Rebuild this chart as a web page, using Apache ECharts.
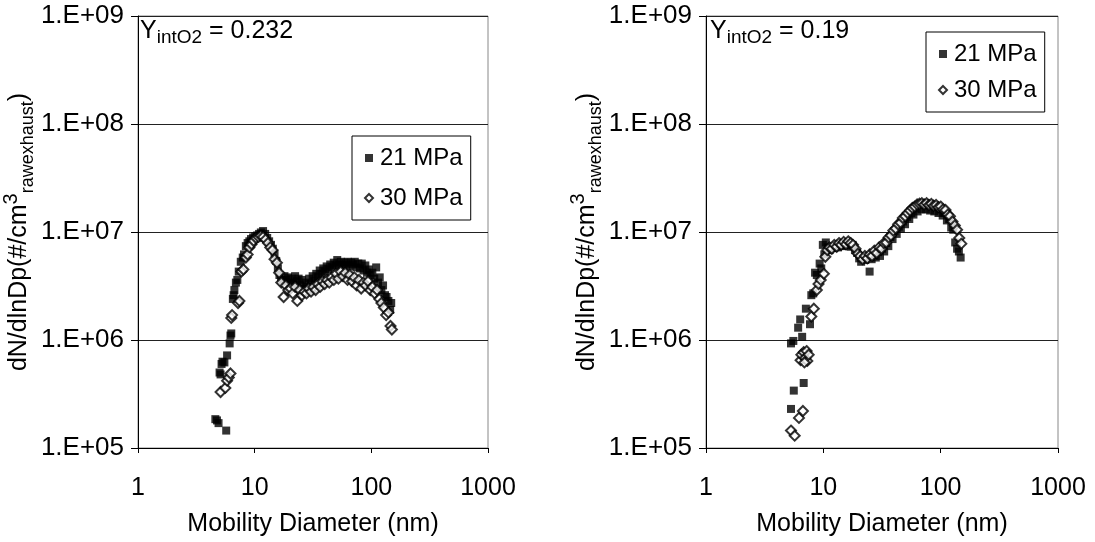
<!DOCTYPE html>
<html>
<head>
<meta charset="utf-8">
<script src="https://cdn.jsdelivr.net/npm/echarts@6/dist/echarts.min.js"></script>
<style>
html,body{margin:0;padding:0;background:#fff;}
#chart{width:1095px;height:542px;}
</style>
</head>
<body>
<div id="chart"></div>
<script>
// ---- data: [mobility diameter (nm), dN/dlnDp] ----
const seriesNames = ['21 MPa', '30 MPa'];
const xTicks = [1, 10, 100, 1000];
const yTicks = [1e5, 1e6, 1e7, 1e8, 1e9];
const annotations = ['0.232', '0.19'];

const left21 = [
[4.6,1.85e5],[4.75,1.8e5],[4.9,1.7e5],[5.7,1.45e5],
[5.0,5.0e5],[5.1,4.8e5],[5.2,6.0e5],[5.3,6.3e5],[5.5,6.2e5],[5.8,7.2e5],[6.1,9.3e5],[6.2,1.1e6],[6.3,1.15e6],
[6.5,2.4e6],[6.6,2.6e6],[6.7,2.9e6],[6.9,3.4e6],[7.1,3.6e6],[7.3,4.3e6],[7.6,5.3e6],[7.9,5.8e6],[8.1,6.2e6],
[8.4,7.4e6],[8.7,7.9e6],[9.0,8.2e6],[9.3,8.6e6],[9.7,8.9e6],[10.1,9.1e6],[10.5,9.3e6],[10.9,9.6e6],[11.3,9.9e6],
[11.8,1.02e7],[12.3,9.6e6],[12.8,8.8e6],[13.3,8.2e6],[13.8,7.6e6],[14.3,7.0e6],[14.8,6.3e6],[15.3,5.4e6],[15.8,4.6e6],
[16.3,4.0e6],[16.8,3.6e6],[17.4,3.5e6],[18.0,3.9e6],[18.6,3.6e6],[19.3,3.8e6],[20.0,3.4e6],[20.7,3.7e6],[21.4,3.3e6],
[22.2,3.9e6],[23.0,3.5e6],[23.8,3.7e6],[24.6,3.2e6],[25.5,3.6e6],[26.4,3.0e6],[27.3,3.4e6],[28.3,3.1e6],[29.3,3.7e6],
[30.3,3.3e6],[31.4,3.9e6],[32.5,3.5e6],[33.7,4.1e6],[34.9,3.8e6],[36.1,4.4e6],[37.4,4.1e6],[38.7,4.6e6],[40.0,4.3e6],
[41.4,4.8e6],[42.9,4.5e6],[44.4,5.0e6],[46.0,4.7e6],[47.6,5.2e6],[49.3,4.9e6],[51.0,5.5e6],[52.8,5.0e6],[54.7,5.3e6],
[56.6,4.9e6],[58.6,5.2e6],[60.6,5.0e6],[62.8,5.3e6],[65.0,4.8e6],[67.3,5.2e6],[69.7,5.0e6],[72.1,5.3e6],[74.7,4.7e6],
[77.3,5.1e6],[80.0,4.6e6],[82.8,5.1e6],[85.7,4.4e6],[88.8,4.9e6],[91.9,4.2e6],[95.1,4.5e6],[98.5,4.0e6],[102,4.2e6],
[106,3.7e6],[110,4.7e6],[114,3.4e6],[118,3.8e6],[122,2.9e6],[126,3.2e6],[131,2.6e6],[135,2.5e6],[140,2.3e6],
[145,1.9e6],[148,2.2e6]
];

const left30 = [
[5.1,3.3e5],[5.6,3.6e5],[5.8,4.2e5],[6.0,4.5e5],[6.2,4.9e5],
[6.3,1.6e6],[6.4,1.7e6],[7.2,2.2e6],[7.4,2.3e6],[7.7,4.3e6],[8.0,4.5e6],[8.4,5.8e6],[8.7,6.2e6],[9.0,7.2e6],
[9.4,7.7e6],[9.8,8.3e6],[10.3,8.8e6],[10.8,9.0e6],[11.3,9.2e6],[11.8,9.0e6],[12.4,8.5e6],[13.0,7.9e6],[13.6,7.2e6],
[14.2,6.8e6],[14.8,5.6e6],[15.5,5.2e6],[16.2,4.2e6],[16.9,3.4e6],[17.7,2.5e6],[18.5,3.2e6],[19.4,2.9e6],[20.3,3.0e6],
[21.2,2.7e6],[22.2,3.1e6],[23.2,2.3e6],[24.3,2.9e6],[25.4,2.6e6],[26.6,2.8e6],[27.8,2.7e6],[29.1,3.0e6],[30.4,2.8e6],
[31.8,3.1e6],[33.3,2.9e6],[34.8,3.3e6],[36.4,3.1e6],[38.1,3.5e6],[39.8,3.3e6],[41.7,3.6e6],[43.6,3.4e6],[45.6,3.8e6],
[47.7,3.6e6],[49.9,4.1e6],[52.2,3.7e6],[54.6,4.3e6],[57.1,3.9e6],[59.7,4.2e6],[62.5,3.6e6],[65.3,4.0e6],[68.3,3.5e6],
[71.5,3.8e6],[74.8,3.2e6],[78.2,3.6e6],[81.8,3.0e6],[85.6,3.4e6],[89.5,3.2e6],[93.6,3.5e6],[97.9,2.9e6],[102,3.1e6],
[107,2.7e6],[112,2.9e6],[117,2.4e6],[122,2.2e6],[128,2.0e6],[134,1.7e6],[140,1.8e6],[146,1.35e6],[150,1.25e6]
];

const right21 = [
[5.3,2.3e5],[5.6,3.4e5],[6.8,4.0e5],[5.3,9.3e5],[5.55,9.8e5],[6.1,1.3e6],[6.35,1.55e6],[6.6,1.07e6],
[7.1,1.95e6],[7.7,1.4e6],[7.9,2.6e6],[8.2,2.7e6],[8.5,4.2e6],[8.8,4.0e6],[9.3,5.1e6],[9.6,4.6e6],[9.9,7.6e6],
[10.2,6.2e6],[10.5,8.0e6],[10.9,7.2e6],[11.3,6.8e6],[11.8,7.3e6],[12.3,7.1e6],[12.8,7.5e6],[13.3,7.2e6],[13.9,7.8e6],
[14.5,7.4e6],[15.1,7.9e6],[15.7,7.5e6],[16.4,7.8e6],[17.1,7.3e6],[17.8,7.6e6],[18.6,6.8e6],[19.4,6.4e6],[20.2,5.7e6],
[21.0,5.3e6],[21.9,5.8e6],[22.8,5.5e6],[23.8,5.9e6],[24.8,4.3e6],[25.8,5.6e6],[26.9,6.1e6],[28.0,5.8e6],[29.2,6.5e6],
[30.4,6.0e6],[31.7,7.0e6],[33.0,6.6e6],[34.4,7.9e6],[35.8,7.4e6],[37.3,9.0e6],[38.9,8.6e6],[40.5,1.02e7],[42.2,9.6e6],
[44.0,1.12e7],[45.8,1.07e7],[47.7,1.25e7],[49.7,1.18e7],[51.8,1.38e7],[54.0,1.32e7],[56.2,1.5e7],[58.6,1.45e7],
[61.0,1.65e7],[63.6,1.55e7],[66.2,1.8e7],[69.0,1.62e7],[71.9,1.85e7],[74.9,1.62e7],[78.0,1.8e7],[81.3,1.58e7],
[84.7,1.78e7],[88.2,1.55e7],[91.9,1.72e7],[95.8,1.5e7],[99.8,1.62e7],[104,1.42e7],[108,1.5e7],[113,1.28e7],
[118,1.32e7],[123,1.1e7],[128,1.05e7],[133,8.0e6],[138,7.0e6],[143,6.6e6],[148,5.8e6]
];

const right30 = [
[5.3,1.45e5],[5.7,1.3e5],[6.2,1.9e5],[6.7,2.2e5],[6.4,6.5e5],[6.5,7.3e5],[6.8,7.7e5],[7.0,6.8e5],[7.2,7.9e5],
[7.3,6.4e5],[7.5,7.3e5],[6.9,6.2e5],[7.9,1.65e6],[8.3,1.95e6],[8.8,2.9e6],[9.1,3.3e6],[9.5,3.6e6],[10.1,4.1e6],
[10.4,5.9e6],[10.8,6.8e6],[11.3,7.2e6],[11.8,7.0e6],[12.4,7.6e6],[13.0,7.3e6],[13.6,7.9e6],[14.2,7.6e6],[14.9,8.1e6],
[15.6,7.7e6],[16.3,8.2e6],[17.1,7.9e6],[17.9,7.6e6],[18.8,7.0e6],[19.7,6.3e6],[20.6,6.0e6],[21.6,5.6e6],[22.6,6.0e6],
[23.7,5.7e6],[24.8,6.2e6],[26.0,6.0e6],[27.2,6.7e6],[28.5,6.4e6],[29.9,7.2e6],[31.3,7.0e6],[32.8,7.9e6],[34.4,8.0e6],
[36.0,8.9e6],[37.7,9.3e6],[39.5,1.03e7],[41.4,1.08e7],[43.4,1.18e7],[45.5,1.22e7],[47.6,1.35e7],[49.9,1.4e7],
[52.3,1.5e7],[54.8,1.58e7],[57.4,1.67e7],[60.1,1.72e7],[63.0,1.8e7],[66.0,1.83e7],[69.1,1.85e7],[72.4,1.8e7],
[75.9,1.85e7],[79.5,1.78e7],[83.3,1.82e7],[87.2,1.75e7],[91.4,1.78e7],[95.7,1.7e7],[100,1.72e7],[105,1.62e7],
[110,1.6e7],[115,1.45e7],[120,1.4e7],[126,1.25e7],[132,1.15e7],[138,1.05e7],[144,8.8e6],[150,7.8e6]
];

// ---- styling / layout ----
const FONT = 'Liberation Sans, Arial, sans-serif';
const grids = [
  {left: 136, top: 16, width: 352, height: 434},
  {left: 706, top: 16, width: 352, height: 434}
];

function yLabel(v) {
  const e = Math.round(Math.log10(v));
  return '1.E+' + (e < 10 ? '0' + e : e);
}

function makeX(i) {
  return {
    type: 'log', logBase: 10, gridIndex: i, min: xTicks[0], max: xTicks[xTicks.length - 1],
    name: 'Mobility Diameter (nm)', nameLocation: 'middle', nameGap: 64,
    nameTextStyle: {fontFamily: FONT, fontSize: 25, color: '#000'},
    axisLine: {show: true, onZero: false, lineStyle: {color: '#000', width: 1}},
    axisTick: {show: true, length: 5, lineStyle: {color: '#000'}},
    minorTick: {show: false},
    splitLine: {show: false},
    axisLabel: {fontFamily: FONT, fontSize: 25, color: '#000', margin: 28,
      formatter: v => String(Math.round(v))}
  };
}
function makeY(i) {
  return {
    type: 'log', logBase: 10, gridIndex: i, min: yTicks[0], max: yTicks[yTicks.length - 1],
    name: '{m|dN/dlnDp(#/cm}{sup|3}{sub|rawexhaust}{m|)}',
    nameLocation: 'middle', nameGap: 93, nameRotate: 90,
    nameTextStyle: {
      fontFamily: FONT, color: '#000',
      rich: {
        m: {fontFamily: FONT, fontSize: 25, color: '#000', lineHeight: 36, verticalAlign: 'middle'},
        sup: {fontFamily: FONT, fontSize: 20, color: '#000', lineHeight: 36, verticalAlign: 'top'},
        sub: {fontFamily: FONT, fontSize: 18, color: '#000', lineHeight: 36, verticalAlign: 'bottom'}
      }
    },
    axisLine: {show: true, lineStyle: {color: '#000', width: 1}},
    axisTick: {show: true, length: 7, lineStyle: {color: '#000'}},
    minorTick: {show: false},
    splitLine: {show: true, lineStyle: {color: '#222', width: 1}},
    axisLabel: {fontFamily: FONT, fontSize: 26, color: '#000', margin: 14, formatter: yLabel}
  };
}

function sq(name, data, i) {
  return {
    name: name, type: 'scatter', xAxisIndex: i, yAxisIndex: i, data: data,
    symbol: 'rect', symbolSize: 8,
    itemStyle: {color: '#000'}, emphasis: {disabled: true}, z: 2
  };
}
function dia(name, data, i) {
  return {
    name: name, type: 'scatter', xAxisIndex: i, yAxisIndex: i, data: data,
    symbol: 'diamond', symbolSize: 10,
    itemStyle: {color: '#fff', borderColor: '#000', borderWidth: 2}, emphasis: {disabled: true}, z: 3
  };
}

function legend(left, top, gap) {
  return {
    left: left, top: top, orient: 'vertical',
    backgroundColor: '#fff', borderColor: '#000', borderWidth: 1,
    padding: [10, 8, 10, 12], itemGap: gap, itemWidth: 8, itemHeight: 8,
    textStyle: {fontFamily: FONT, fontSize: 24, color: '#000', padding: [0, 0, 0, 2]},
    data: seriesNames, selectedMode: false
  };
}

function annot(left, val) {
  return {
    type: 'text', left: left, top: 19, z: 10,
    style: {
      text: '{a|Y}{b|intO2}{a| = ' + val + '}',
      rich: {
        a: {fontFamily: FONT, fontSize: 25, fill: '#000', lineHeight: 32, verticalAlign: 'middle'},
        b: {fontFamily: FONT, fontSize: 19, fill: '#000', lineHeight: 32, verticalAlign: 'bottom'}
      }
    }
  };
}

const chart = echarts.init(document.getElementById('chart'), null, {renderer: 'canvas'});
chart.setOption({
  animation: false,
  backgroundColor: '#fff',
  grid: grids.map(g => Object.assign({show: true, borderColor: '#888', borderWidth: 1, backgroundColor: 'transparent'}, g)),
  xAxis: [makeX(0), makeX(1)],
  yAxis: [makeY(0), makeY(1)],
  legend: [legend(352, 136, 16), legend(926, 32, 12)],
  series: [
    sq(seriesNames[0], left21, 0), dia(seriesNames[1], left30, 0),
    sq(seriesNames[0], right21, 1), dia(seriesNames[1], right30, 1)
  ],
  graphic: [annot(140, annotations[0]), annot(710, annotations[1])]
});
</script>
</body>
</html>
